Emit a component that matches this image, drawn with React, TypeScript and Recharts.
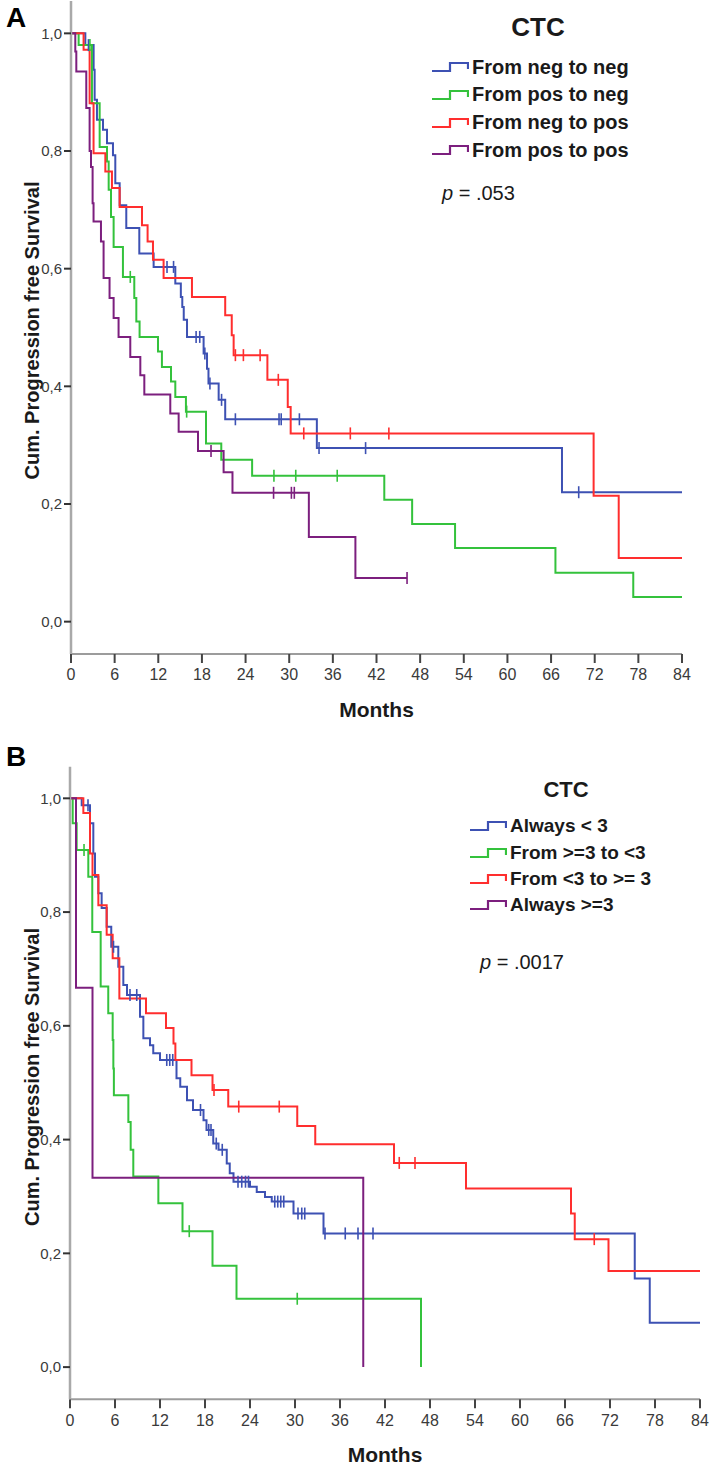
import { ComposedChart, Line, Scatter, XAxis, YAxis } from "recharts";

const FONT = '"Liberation Sans", Arial, Helvetica, sans-serif';

const MONTH_TICKS = [0, 6, 12, 18, 24, 30, 36, 42, 48, 54, 60, 66, 72, 78, 84];
const SURVIVAL_TICKS = [0, 0.2, 0.4, 0.6, 0.8, 1];

const SERIES_COLORS = ["#3d51b3", "#34c23c", "#ff2e2e", "#7c1f7e"];

type Step = [number, number]; // [months, cum. survival after the event]

// ---- panel A: CTC neg/pos change
const A_NAMES = ["From neg to neg", "From pos to neg", "From neg to pos", "From pos to pos"];

const A_NEG_NEG: Step[] = [
  [0, 1], [1.97, 0.98], [3.11, 0.938], [3.25, 0.887], [3.57, 0.853], [4.4, 0.836],
  [4.95, 0.813], [5.77, 0.793], [6.09, 0.745], [6.69, 0.708], [7.6, 0.669], [9.39, 0.626],
  [11.36, 0.603], [14.34, 0.575], [15.1, 0.552], [15.3, 0.535], [15.5, 0.513], [15.95, 0.484],
  [18.23, 0.456], [18.7, 0.43], [18.9, 0.405], [20.3, 0.377], [21.2, 0.344], [33.8, 0.295],
  [67.5, 0.22],
];
const A_NEG_NEG_CENSORED = [2.4, 13.2, 14.1, 17.2, 17.7, 18.4, 19.1, 20.7, 22.6, 28.6, 28.9, 31.4, 34.1, 40.5, 69.8];

const A_POS_NEG: Step[] = [
  [0, 1], [1.05, 0.98], [2.88, 0.881], [3.94, 0.807], [4.95, 0.782], [5.18, 0.734],
  [5.5, 0.688], [5.86, 0.637], [7.14, 0.586], [8.7, 0.55], [8.98, 0.51], [9.43, 0.484],
  [11.96, 0.459], [12.5, 0.433], [13.75, 0.408], [14.34, 0.382], [15.8, 0.357], [18.56, 0.303],
  [20.66, 0.275], [24.9, 0.248], [43.07, 0.207], [46.9, 0.166], [52.8, 0.125], [66.6, 0.083],
  [77.3, 0.042],
];
const A_POS_NEG_CENSORED = [2.6, 8.15, 15.9, 27.9, 30.9, 36.6];

const A_NEG_POS: Step[] = [
  [0, 1], [1.73, 0.972], [2.56, 0.881], [3.1, 0.796], [4.72, 0.765], [5.63, 0.737],
  [6.69, 0.705], [9.76, 0.674], [10.53, 0.646], [11.27, 0.615], [12.73, 0.584], [16.63, 0.552],
  [21.2, 0.521], [22.1, 0.487], [22.36, 0.453], [27.0, 0.411], [29.8, 0.365], [30.2, 0.32],
  [71.85, 0.214], [75.3, 0.108],
];
const A_NEG_POS_CENSORED = [22.6, 23.7, 26.0, 28.5, 32.0, 38.4, 43.7];

const A_POS_POS: Step[] = [
  [0, 1], [0.59, 0.969], [0.73, 0.935], [2.1, 0.873], [2.56, 0.8], [2.75, 0.773],
  [2.97, 0.711], [3.1, 0.68], [4.12, 0.646], [4.48, 0.584], [5.3, 0.55], [5.86, 0.516],
  [6.54, 0.484], [8.15, 0.45], [9.53, 0.419], [10.08, 0.386], [13.65, 0.354], [14.8, 0.323],
  [17.46, 0.29], [20.98, 0.254], [22.2, 0.219], [32.7, 0.144], [39.1, 0.074],
];
const A_POS_POS_CENSORED = [19.25, 27.85, 30.3, 30.7, 46.2];

const A_ENDS = [84, 84, 84, 46.2];

// ---- panel B: CTC count change (cut-off 3)
const B_NAMES = ["Always < 3", "From >=3 to <3", "From <3 to >= 3", "Always >=3"];

const B_ALWAYS_LOW: Step[] = [
  [0, 1], [1.56, 0.988], [2.67, 0.956], [3.11, 0.903], [3.33, 0.862], [3.78, 0.833],
  [4.22, 0.807], [4.89, 0.774], [5.5, 0.739], [6.44, 0.704], [7.11, 0.672], [7.6, 0.654],
  [9.33, 0.616], [9.78, 0.578], [10.67, 0.566], [11.1, 0.552], [12.0, 0.54], [14.2, 0.508],
  [14.7, 0.493], [15.6, 0.469], [16.4, 0.452], [17.8, 0.434], [18.2, 0.417], [19.1, 0.393],
  [19.8, 0.382], [20.9, 0.358], [21.3, 0.341], [21.8, 0.326], [24.0, 0.317], [24.9, 0.308],
  [26.0, 0.299], [26.9, 0.291], [29.8, 0.27], [33.8, 0.235], [75.3, 0.156], [77.3, 0.078],
];
const B_ALWAYS_LOW_CENSORED = [
  2.4, 5.8, 8.0, 8.9, 12.9, 13.3, 13.7, 17.4, 18.5, 18.8, 19.5, 20.3, 22.4, 22.9, 23.4,
  23.8, 27.3, 27.7, 28.1, 28.5, 30.4, 30.9, 31.3, 34.0, 36.7, 38.4, 40.4,
];

const B_HIGH_TO_LOW: Step[] = [
  [0, 1], [0.36, 0.956], [0.89, 0.909], [2.44, 0.862], [2.97, 0.765], [4.09, 0.669],
  [5.1, 0.622], [5.69, 0.575], [5.78, 0.525], [5.85, 0.478], [7.78, 0.431], [8.09, 0.382],
  [8.44, 0.335], [11.78, 0.288], [15.0, 0.239], [19.0, 0.178], [22.2, 0.12], [46.8, 0],
];
const B_HIGH_TO_LOW_CENSORED = [1.87, 15.9, 30.3];

const B_LOW_TO_HIGH: Step[] = [
  [0, 1], [1.78, 0.974], [2.67, 0.903], [3.0, 0.865], [3.78, 0.812], [4.89, 0.76],
  [5.69, 0.719], [6.58, 0.648], [10.13, 0.622], [12.8, 0.596], [13.8, 0.569], [14.05, 0.54],
  [16.2, 0.513], [19.0, 0.487], [21.1, 0.458], [30.3, 0.424], [32.7, 0.392], [43.2, 0.359],
  [52.8, 0.314], [66.8, 0.27], [67.3, 0.225], [71.8, 0.169],
];
const B_LOW_TO_HIGH_CENSORED = [19.2, 22.5, 27.9, 43.9, 46.0, 69.9];

const B_ALWAYS_HIGH: Step[] = [[0, 1], [0.8, 0.667], [3.0, 0.333], [39.1, 0]];
const B_ALWAYS_HIGH_CENSORED: number[] = [];

const B_ENDS = [84, 46.8, 84, 39.1];

type Curve = { name: string; color: string; steps: Step[]; end: number; censored: number[] };

const A_CURVES: Curve[] = [
  { name: A_NAMES[0], color: SERIES_COLORS[0], steps: A_NEG_NEG, end: A_ENDS[0], censored: A_NEG_NEG_CENSORED },
  { name: A_NAMES[1], color: SERIES_COLORS[1], steps: A_POS_NEG, end: A_ENDS[1], censored: A_POS_NEG_CENSORED },
  { name: A_NAMES[2], color: SERIES_COLORS[2], steps: A_NEG_POS, end: A_ENDS[2], censored: A_NEG_POS_CENSORED },
  { name: A_NAMES[3], color: SERIES_COLORS[3], steps: A_POS_POS, end: A_ENDS[3], censored: A_POS_POS_CENSORED },
];

const B_CURVES: Curve[] = [
  { name: B_NAMES[0], color: SERIES_COLORS[0], steps: B_ALWAYS_LOW, end: B_ENDS[0], censored: B_ALWAYS_LOW_CENSORED },
  { name: B_NAMES[1], color: SERIES_COLORS[1], steps: B_HIGH_TO_LOW, end: B_ENDS[1], censored: B_HIGH_TO_LOW_CENSORED },
  { name: B_NAMES[2], color: SERIES_COLORS[2], steps: B_LOW_TO_HIGH, end: B_ENDS[2], censored: B_LOW_TO_HIGH_CENSORED },
  { name: B_NAMES[3], color: SERIES_COLORS[3], steps: B_ALWAYS_HIGH, end: B_ENDS[3], censored: B_ALWAYS_HIGH_CENSORED },
];

function survivalAt(steps: Step[], t: number) {
  let s = steps[0][1];
  for (const [time, value] of steps) {
    if (time <= t) s = value;
  }
  return s;
}

function lineData(c: Curve) {
  const pts = c.steps.map(([t, s]) => ({ t, s }));
  const last = c.steps[c.steps.length - 1];
  if (c.end > last[0]) pts.push({ t: c.end, s: last[1] });
  return pts;
}

function censorData(c: Curve) {
  return c.censored.map((t) => ({ t, s: survivalAt(c.steps, t) }));
}

const formatSurvival = (v: number) => v.toFixed(1).replace(".", ",");

type PanelProps = {
  curves: Curve[];
  height: number;
  top: number;
  right: number;
  axisWidth: number;
  xAxisHeight: number;
  yDomain: [number, number];
  yLabelShift: number;
};

function KmPanel({ curves, height, top, right, axisWidth, xAxisHeight, yDomain, yLabelShift }: PanelProps) {
  const monthsLabel = (props: any) => {
    const vb = props.viewBox;
    if (!vb) return null;
    return (
      <text x={vb.x + vb.width / 2} y={vb.y + 63} textAnchor="middle" fontFamily={FONT} fontWeight={700} fontSize={21} fill="#1a1a1a">
        Months
      </text>
    );
  };
  const survivalLabel = (props: any) => {
    const vb = props.viewBox;
    if (!vb) return null;
    const cx = 32;
    const cy = vb.y + vb.height / 2 + yLabelShift;
    return (
      <text x={cx} y={cy} transform={`rotate(-90 ${cx} ${cy})`} textAnchor="middle" dominantBaseline="central" fontFamily={FONT} fontWeight={700} fontSize={20} fill="#1a1a1a">
        Cum. Progression free Survival
      </text>
    );
  };

  return (
    <ComposedChart width={709} height={height} margin={{ top, right, bottom: 0, left: 0 }}>
      <XAxis
        type="number"
        dataKey="t"
        domain={[0, 84]}
        ticks={MONTH_TICKS}
        interval={0}
        allowDataOverflow
        height={xAxisHeight}
        tickSize={9}
        tickMargin={6}
        axisLine={{ stroke: "#9c9c9c", strokeWidth: 2 }}
        tickLine={{ stroke: "#444", strokeWidth: 2 }}
        tick={{ fontSize: 16, fill: "#3a3a3a", fontFamily: FONT }}
        label={{ value: "Months", content: monthsLabel }}
      />
      <YAxis
        type="number"
        domain={yDomain}
        ticks={SURVIVAL_TICKS}
        interval={0}
        allowDataOverflow
        width={axisWidth}
        tickSize={7}
        tickMargin={2}
        tickFormatter={formatSurvival}
        axisLine={{ stroke: "#a9a9a9", strokeWidth: 2.5 }}
        tickLine={{ stroke: "#333", strokeWidth: 2 }}
        tick={{ fontSize: 15, fill: "#3a3a3a", fontFamily: FONT }}
        label={{ value: "Cum. Progression free Survival", content: survivalLabel }}
      />
      {curves.map((c) => (
        <Line
          key={c.name}
          data={lineData(c)}
          dataKey="s"
          type="stepAfter"
          stroke={c.color}
          strokeWidth={2}
          dot={false}
          activeDot={false}
          isAnimationActive={false}
        />
      ))}
      {curves.map((c) => (
        <Scatter
          key={`${c.name}-censored`}
          data={censorData(c)}
          dataKey="s"
          fill={c.color}
          isAnimationActive={false}
          shape={(p: any) => (
            <line x1={p.cx} y1={p.cy - 6} x2={p.cx} y2={p.cy + 6} stroke={c.color} strokeWidth={1.6} />
          )}
        />
      ))}
    </ComposedChart>
  );
}

type LegendProps = {
  curves: Curve[];
  iconLeft: number;
  titleX: number;
  titleY: number;
  titleSize: number;
  firstRowY: number;
  rowGap: number;
  fontSize: number;
  pText: string;
  pX: number;
  pY: number;
};

function CurveLegend({ curves, iconLeft, titleX, titleY, titleSize, firstRowY, rowGap, fontSize, pText, pX, pY }: LegendProps) {
  return (
    <>
      <div
        style={{
          position: "absolute",
          left: titleX - 60,
          width: 120,
          top: titleY - 15,
          height: 30,
          lineHeight: "30px",
          textAlign: "center",
          fontWeight: 700,
          fontSize: titleSize,
          color: "#1a1a1a",
        }}
      >
        CTC
      </div>
      {curves.map((c, i) => (
        <div
          key={c.name}
          style={{
            position: "absolute",
            left: iconLeft,
            top: firstRowY + i * rowGap - 13,
            height: 26,
            display: "flex",
            alignItems: "center",
            whiteSpace: "nowrap",
            fontWeight: 700,
            fontSize,
            color: "#1a1a1a",
          }}
        >
          <svg width={38} height={14} style={{ marginRight: 3 }}>
            <path d="M1 11 H19 V3 H37 V9" fill="none" stroke={c.color} strokeWidth={2.2} />
          </svg>
          <span>{c.name}</span>
        </div>
      ))}
      <div
        style={{
          position: "absolute",
          left: pX,
          top: pY - 13,
          height: 26,
          lineHeight: "26px",
          fontSize: 20,
          color: "#1a1a1a",
          whiteSpace: "pre",
        }}
      >
        <span style={{ fontStyle: "italic" }}>p</span>
        {pText}
      </div>
    </>
  );
}

function PanelLetter({ letter, top }: { letter: string; top: number }) {
  return (
    <div style={{ position: "absolute", left: 6, top, fontSize: 28, lineHeight: "28px", fontWeight: 700, color: "#000" }}>
      {letter}
    </div>
  );
}

export default function App() {
  return (
    <div style={{ position: "absolute", left: 0, top: 0, width: 709, height: 1465, background: "#fff", fontFamily: FONT }}>
      <div style={{ position: "absolute", left: 0, top: 0 }}>
        <KmPanel curves={A_CURVES} height={735} top={1} right={27} axisWidth={71} xAxisHeight={81} yDomain={[-0.055, 1.055]} yLabelShift={3} />
      </div>
      <div style={{ position: "absolute", left: 0, top: 740 }}>
        <KmPanel curves={B_CURVES} height={725} top={26.7} right={9} axisWidth={70} xAxisHeight={65.7} yDomain={[-0.0566, 1.0556]} yLabelShift={-6} />
      </div>
      <PanelLetter letter="A" top={4} />
      <PanelLetter letter="B" top={743} />
      <CurveLegend
        curves={A_CURVES}
        iconLeft={431}
        titleX={538}
        titleY={27}
        titleSize={26}
        firstRowY={67.2}
        rowGap={27.75}
        fontSize={20}
        pText=" = .053"
        pX={442}
        pY={193}
      />
      <CurveLegend
        curves={B_CURVES}
        iconLeft={469}
        titleX={566}
        titleY={790}
        titleSize={22}
        firstRowY={826.2}
        rowGap={26.4}
        fontSize={19}
        pText=" = .0017"
        pX={480}
        pY={962}
      />
    </div>
  );
}
